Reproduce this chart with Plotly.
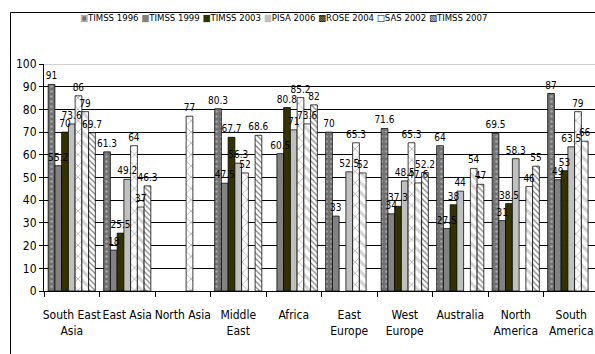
import plotly.graph_objects as go

# Regions on the category axis
regions = ["South East Asia", "East Asia", "North Asia", "Middle East", "Africa",
           "East Europe", "West Europe", "Australia", "North America", "South America"]
region_ticks = ["South East<br>Asia", "East Asia", "North Asia", "Middle<br>East", "Africa",
                "East<br>Europe", "West<br>Europe", "Australia", "North<br>America", "South<br>America"]

# Survey results per region (None = no data)
timss_1996 = [91, 61.3, None, 80.3, None, 70, 71.6, 64, 69.5, 87]
timss_1999 = [55.2, 18, None, 47.5, 60.5, 33, 34, 27.5, 31, 49]
timss_2003 = [70, 25.5, None, 67.7, 80.8, None, 37.3, 38, 38.5, 53]
pisa_2006 = [73.6, 49.2, None, 56.3, 71, 52.5, 48.5, 44, 58.3, 63.5]
rose_2004 = [86, 64, 77, 52, 85.2, 65.3, 65.3, None, None, 79]
sas_2002 = [79, 37, None, None, 73.6, 52, 47.6, 54, 46, 66]
timss_2007 = [69.7, 46.3, None, 68.6, 82, None, 52.2, 47, 55, None]

series_names = ["TIMSS 1996", "TIMSS 1999", "TIMSS 2003", "PISA 2006",
                "ROSE 2004", "SAS 2002", "TIMSS 2007"]
series_values = [timss_1996, timss_1999, timss_2003, pisa_2006,
                 rose_2004, sas_2002, timss_2007]

y_ticks = list(range(0, 101, 10))

FONT = "DejaVu Sans Condensed, Liberation Sans Narrow, Liberation Sans, sans-serif"

# Fill styles: (base colour, pattern shape, pattern colour, pattern size, solidity)
styles = [
    ("#727272", ".", "#d8d8d8", 5, 0.2),
    ("#828282", "", None, None, None),
    ("#333300", "", None, None, None),
    ("#c0c0c0", "", None, None, None),
    ("#ffffff", "x", "#000000", 8, 0.12),
    ("#ffffff", "\\", "#a8a8a8", 7, 0.45),
    ("#ffffff", "\\", "#000000", 4, 0.3),
]
legend_icons = [("▣", "#727272"), ("■", "#828282"), ("■", "#333300"), ("■", "#c0c0c0"),
                ("▩", "#000000"), ("□", "#000000"), ("▧", "#000000")]

fig = go.Figure()

# Filled bars
for name, vals, (col, shape, fg, size, sol) in zip(series_names, series_values, styles):
    marker = dict(color=col, line=dict(color="black", width=0.75))
    if shape:
        marker["pattern"] = dict(shape=shape, fgcolor=fg, size=size,
                                 solidity=sol, fillmode="overlay")
    fig.add_trace(go.Bar(name=name, x=regions, y=vals, marker=marker,
                         xaxis="x", yaxis="y"))

# Value labels on an overlaid copy of the bars so they sit above every bar
for name, vals in zip(series_names, series_values):
    fig.add_trace(go.Bar(
        name=name + " label", x=regions, y=vals, xaxis="x2", yaxis="y2",
        marker=dict(color="rgba(0,0,0,0)", line=dict(width=0)),
        texttemplate="%{y}", textposition="outside", textangle=0,
        constraintext="none", cliponaxis=False, hoverinfo="skip",
        textfont=dict(family=FONT, size=10, color="black"),
    ))

W, H = 595, 354
L, R, T, B = 44, 0, 64, 63
plot_w = W - L - R
plot_h = H - T - B
cat_w = 55.5
x_end = -0.5 + plot_w / cat_w


def px_to_paper_x(px):
    return (px - L) / plot_w


def px_to_paper_y(py):
    return (H - B - py) / plot_h


legend_text = " ".join(
    f"<span style='color:{c}'>{g}</span>{n}" for (g, c), n in zip(legend_icons, series_names)
)

fig.update_layout(
    width=W, height=H,
    margin=dict(l=L, r=R, t=T, b=B, pad=0),
    paper_bgcolor="white", plot_bgcolor="white",
    barmode="group", bargap=0.15, bargroupgap=0,
    showlegend=False,
    font=dict(family=FONT, size=12, color="black"),
    xaxis=dict(
        type="category", categoryorder="array", categoryarray=regions,
        tickvals=regions, ticktext=region_ticks,
        range=[-0.5, x_end],
        showline=True, linecolor="black", linewidth=1,
        ticks="outside", tickson="boundaries", ticklen=5, tickcolor="black",
        ticklabelstandoff=13, tickangle=0,
        showgrid=False, zeroline=False,
        tickfont=dict(family=FONT, size=12),
    ),
    yaxis=dict(
        range=[0, 100], tickvals=y_ticks,
        showline=True, linecolor="black", linewidth=1,
        ticks="outside", ticklen=4, tickcolor="black",
        showgrid=True, gridcolor="black", gridwidth=1,
        zeroline=False,
        tickfont=dict(family=FONT, size=12),
    ),
    xaxis2=dict(
        type="category", categoryorder="array", categoryarray=regions,
        range=[-0.5, x_end], overlaying="x", visible=False,
    ),
    yaxis2=dict(range=[0, 100], overlaying="y", visible=False),
    shapes=[
        dict(type="line", xref="paper", yref="y", x0=0, x1=1, y0=100, y1=100,
             line=dict(color="#c0c0c0", width=1.5), layer="above"),
        dict(type="rect", xref="paper", yref="paper",
             x0=px_to_paper_x(10.5), x1=px_to_paper_x(W + 20),
             y0=px_to_paper_y(H + 20), y1=px_to_paper_y(12.5),
             line=dict(color="black", width=1), fillcolor="rgba(0,0,0,0)", layer="above"),
    ],
    annotations=[
        dict(text=legend_text, xref="paper", yref="paper",
             x=px_to_paper_x(283), y=px_to_paper_y(17.5),
             xanchor="center", yanchor="middle", showarrow=False,
             font=dict(family=FONT, size=9.5, color="black")),
    ],
)

fig.write_html("out.html")
